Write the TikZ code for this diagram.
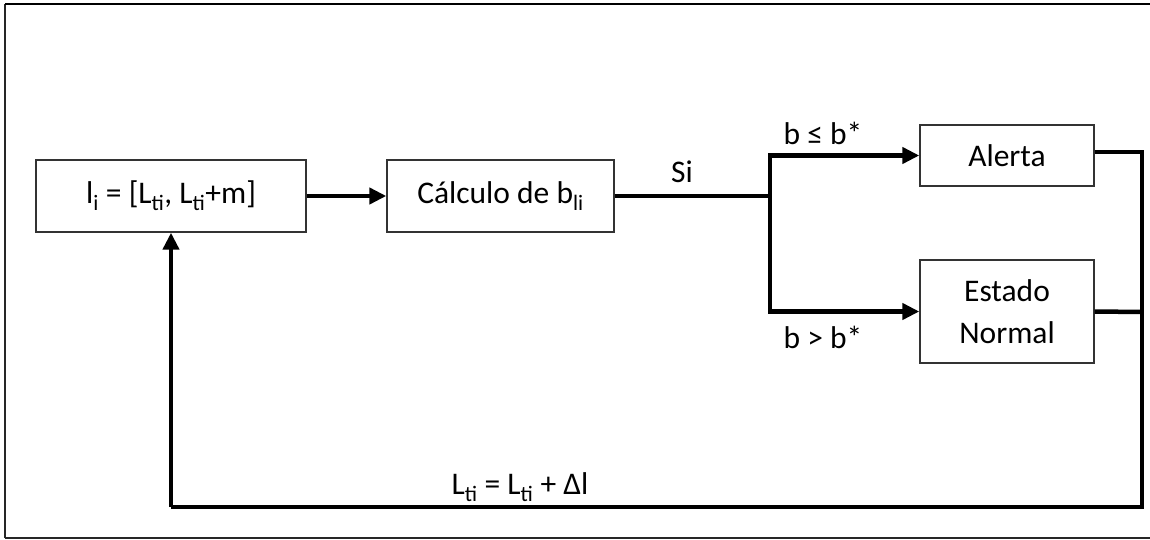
\documentclass[tikz,border=0pt]{standalone}
\usepackage{fontspec}
\setmainfont{Carlito}
\usetikzlibrary{arrows.meta}
\newcommand\lsub[1]{\textsubscript{#1}}
\tikzset{
  blk/.style={draw=black!80, line width=1.4pt, fill=white, inner sep=0pt, align=center, font=\fontsize{31.5}{37}\selectfont},
  conn/.style={line width=4.5pt, line cap=butt, line join=miter},
  arr/.style={conn, -{Triangle[length=17pt,width=16pt]}},
  lbl/.style={font=\fontsize{31.5}{37}\selectfont, inner sep=0pt}
}
\begin{document}
\begin{tikzpicture}[x=1pt,y=-1pt]
\useasboundingbox (0,0) rectangle (1150,540);
\fill[white] (0,0) rectangle (1150,540);
% frame
\draw[line width=1.3pt, black!85] (5,538) -- (5,4);
\draw[line width=2.2pt] (5,4) -- (1150,4);
\draw[line width=1.3pt, black!85] (5,538) -- (1150,538);
% nodes
\node[blk, minimum width=270pt, minimum height=72pt] (b1) at (171,196) {l\lsub{i} = [L\lsub{ti}, L\lsub{ti}+m]};
\node[blk, minimum width=227pt, minimum height=72pt] (b2) at (500.5,196) {Cálculo de b\lsub{li}};
\node[blk, minimum width=174pt, minimum height=61pt] (al) at (1007,155.5) {Alerta};
\node[blk, minimum width=174pt, minimum height=103pt] (en) at (1007,311.5) {Estado\\[5pt]Normal};
\coordinate (br) at (770,196);
\coordinate (rt) at (1142,152);
\coordinate (rm) at (1142,312);
\coordinate (rb) at (1142,507);
\coordinate (lb) at (171,507);
% labels
\node[lbl] (si) at (682,172) {Si};
\node[lbl] (le) at (823,133) {b ≤ b*};
\node[lbl] (gt) at (823,337) {b > b*};
\node[lbl] (lt) at (520,487) {L\lsub{ti} = L\lsub{ti} + Δl};
% connectors
\draw[arr] (b1.east) -- (b2.west);
\draw[conn] (b2.east) -- (br);
\draw[arr] (br) |- (al.west);
\draw[arr] (br) |- (en.west);
\draw[conn] (al.east |- rt) -- (rt) -- (rb) -- (lb);
\draw[conn] (en.east) -- (rm);
\draw[arr] (lb) -- (b1.south);
\end{tikzpicture}
\end{document}
